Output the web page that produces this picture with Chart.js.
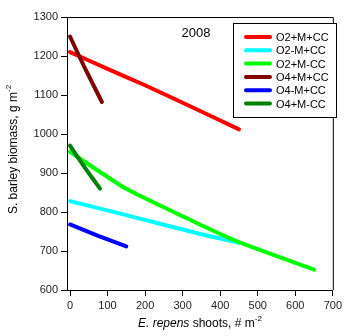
<!DOCTYPE html>
<html>
<head>
<meta charset="utf-8">
<script src="https://cdn.jsdelivr.net/npm/chart.js@4.4.0/dist/chart.umd.min.js"></script>
<style>
  html, body { margin: 0; padding: 0; background: #fff; }
  #wrap { width: 345px; height: 336px; }
</style>
</head>
<body>
<div id="wrap"><canvas id="biomass-chart" width="345" height="336"></canvas></div>
<script>
// series names and colours (legend order)
const seriesNames = ['O2+M+CC', 'O2-M+CC', 'O2+M-CC', 'O4+M+CC', 'O4-M+CC', 'O4+M-CC'];
const seriesColors = ['#ff0000', '#00ffff', '#00ff00', '#800000', '#0000ff', '#008000'];

// E. repens shoots (x) and barley biomass (y)
const o2MCC_x = [0, 100, 200, 300, 450];
const o2MCC_y = [1210, 1167, 1125, 1080, 1012];
const o2noMCC_x = [0, 150, 350, 450];
const o2noMCC_y = [828, 792, 743, 721];
const o2MnoCC_x = [0, 145, 350, 455, 650];
const o2MnoCC_y = [954, 862, 766, 721, 652];
const o4MCC_x = [0, 40, 85];
const o4MCC_y = [1250, 1168, 1082];
const o4noMCC_x = [0, 75, 150];
const o4noMCC_y = [768, 739, 712];
const o4MnoCC_x = [0, 40, 80];
const o4MnoCC_y = [970, 913, 860];

const xTicks = [0, 100, 200, 300, 400, 500, 600, 700];
const yTicks = [600, 700, 800, 900, 1000, 1100, 1200, 1300];

const allX = [o2MCC_x, o2noMCC_x, o2MnoCC_x, o4MCC_x, o4noMCC_x, o4MnoCC_x];
const allY = [o2MCC_y, o2noMCC_y, o2MnoCC_y, o4MCC_y, o4noMCC_y, o4MnoCC_y];

const font = "'Liberation Sans', Arial, sans-serif";

const datasets = seriesNames.map((name, i) => ({
  label: name,
  data: allX[i].map((x, j) => ({ x: x, y: allY[i][j] })),
  borderColor: seriesColors[i],
  backgroundColor: seriesColors[i],
  borderWidth: 4,
  borderCapStyle: 'round',
  showLine: true,
  pointRadius: 0,
  tension: 0.1,
  order: 6 - i, // later series on top
}));

// frame, year label, legend box and axis titles
const decorations = {
  id: 'decorations',
  afterDraw(chart) {
    const ctx = chart.ctx;
    const a = chart.chartArea;
    ctx.save();
    ctx.strokeStyle = '#000';
    ctx.lineWidth = 1;
    ctx.beginPath();
    ctx.moveTo(a.left, a.top + 0.5);
    ctx.lineTo(a.right + 0.5, a.top + 0.5);
    ctx.lineTo(a.right + 0.5, a.bottom);
    ctx.stroke();

    // year
    ctx.fillStyle = '#000';
    ctx.font = '13px ' + font;
    ctx.textAlign = 'center';
    ctx.textBaseline = 'middle';
    ctx.fillText('2008', 196, 33);

    // legend
    const lx = 233, ly = 23, lw = 103, lh = 94;
    ctx.fillStyle = '#fff';
    ctx.fillRect(lx, ly, lw, lh);
    ctx.strokeRect(lx + 0.5, ly + 0.5, lw, lh);
    ctx.font = '11px ' + font;
    ctx.textAlign = 'left';
    chart.data.datasets.forEach((ds, i) => {
      const y = 37 + i * 13.3;
      ctx.strokeStyle = ds.borderColor;
      ctx.lineWidth = 4;
      ctx.lineCap = 'round';
      ctx.beginPath();
      ctx.moveTo(246, y);
      ctx.lineTo(270, y);
      ctx.stroke();
      ctx.fillStyle = '#000';
      ctx.fillText(ds.label, 276, y + 1);
    });

    // x title: E. repens shoots, # m-2
    const t1 = 'E. repens';
    const t2 = ' shoots, # m';
    ctx.font = 'italic 12px ' + font;
    const w1 = ctx.measureText(t1).width;
    ctx.font = '12px ' + font;
    const w2 = ctx.measureText(t2).width;
    ctx.font = '8px ' + font;
    const w3 = ctx.measureText('-2').width;
    let x0 = (a.left + a.right) / 2 - (w1 + w2 + w3) / 2;
    ctx.textBaseline = 'alphabetic';
    ctx.fillStyle = '#000';
    ctx.font = 'italic 12px ' + font;
    ctx.fillText(t1, x0, 327);
    ctx.font = '12px ' + font;
    ctx.fillText(t2, x0 + w1, 327);
    ctx.font = '8px ' + font;
    ctx.fillText('-2', x0 + w1 + w2, 321);

    // y title: S. barley biomass, g m-2
    ctx.translate(17, (a.top + a.bottom) / 2 - 4);
    ctx.rotate(-Math.PI / 2);
    ctx.font = '12px ' + font;
    const s1 = 'S. barley biomass, g m';
    const ws1 = ctx.measureText(s1).width;
    ctx.font = '8px ' + font;
    const ws2 = ctx.measureText('-2').width;
    const sx = -(ws1 + ws2) / 2;
    ctx.font = '12px ' + font;
    ctx.fillText(s1, sx, 0);
    ctx.font = '8px ' + font;
    ctx.fillText('-2', sx + ws1, -6);
    ctx.restore();
  }
};

new Chart(document.getElementById('biomass-chart').getContext('2d'), {
  type: 'scatter',
  data: { datasets: datasets },
  options: {
    responsive: false,
    animation: false,
    layout: { padding: { top: 17, right: 8, left: 0, bottom: 0 } },
    plugins: { legend: { display: false }, tooltip: { enabled: false } },
    scales: {
      x: {
        type: 'linear',
        min: -8,
        max: 700,
        afterBuildTicks: (scale) => { scale.ticks = xTicks.map(v => ({ value: v })); },
        afterFit: (scale) => { scale.height = 46; },
        grid: { drawOnChartArea: false, tickLength: 6, color: '#000' },
        border: { color: '#000', width: 1 },
        ticks: { color: '#222', font: { family: font, size: 11 }, padding: 3, maxRotation: 0,
                 callback: (v) => String(v) },
      },
      y: {
        type: 'linear',
        min: 600,
        max: 1300,
        afterBuildTicks: (scale) => { scale.ticks = yTicks.map(v => ({ value: v })); },
        afterFit: (scale) => { scale.width = 67; },
        grid: { drawOnChartArea: false, tickLength: 6, color: '#000' },
        border: { color: '#000', width: 1 },
        ticks: { color: '#222', font: { family: font, size: 11 }, padding: 3,
                 callback: (v) => String(v) },
      },
    },
  },
  plugins: [decorations],
});
</script>
</body>
</html>
